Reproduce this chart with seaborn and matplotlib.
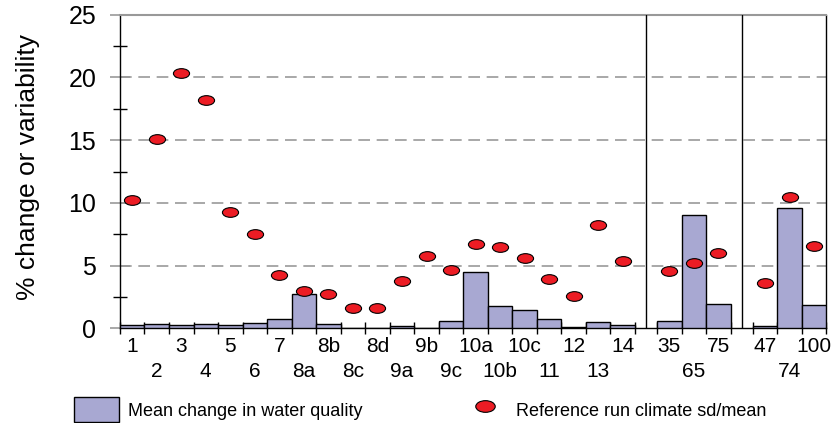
import numpy as np
import pandas as pd
import matplotlib
matplotlib.use("Agg")
import matplotlib.pyplot as plt
import seaborn as sns
from matplotlib.path import Path
from matplotlib.transforms import Affine2D
from matplotlib.patches import Patch
from matplotlib.lines import Line2D

# --------------------------
# DATA
# --------------------------
sites = ["1", "2", "3", "4", "5", "6", "7", "8a", "8b", "8c", "8d",
         "9a", "9b", "9c", "10a", "10b", "10c", "11", "12", "13", "14"]
group65 = ["35", "65", "75"]
group74 = ["47", "74", "100"]

mean_change = [0.25, 0.37, 0.25, 0.3, 0.25, 0.42, 0.7, 2.77, 0.3, 0.0, 0.0,
               0.15, 0.0, 0.55, 4.45, 1.78, 1.44, 0.77, 0.13, 0.5, 0.25]
mean_change_65 = [0.56, 9.04, 1.94]
mean_change_74 = [0.16, 9.58, 1.86]

sd_mean = [10.2, 15.08, 20.37, 18.22, 9.3, 7.53, 4.23, 2.98, 2.71, 1.64, 1.6,
           3.77, 5.8, 4.68, 6.7, 6.51, 5.59, 3.93, 2.55, 8.22, 5.4]
sd_mean_65 = [4.57, 5.21, 6.03]
sd_mean_74 = [3.62, 10.45, 6.59]

group_labels = ["65", "74"]

BAR_COLOR = "#a8a8d2"
DOT_COLOR = "#ec1c24"
GAP = 0.9

# --------------------------
# POSITIONS
# --------------------------
pos1 = list(np.arange(len(sites), dtype=float))
start2 = pos1[-1] + 1 + GAP
pos2 = [start2 + i for i in range(len(group65))]
start3 = pos2[-1] + 1 + GAP
pos3 = [start3 + i for i in range(len(group74))]

df = pd.DataFrame({
    "pos": pos1 + pos2 + pos3,
    "label": sites + group65 + group74,
    "change": mean_change + mean_change_65 + mean_change_74,
    "sdmean": sd_mean + sd_mean_65 + sd_mean_74,
})

# --------------------------
# PLOT
# --------------------------
sns.set_style("white")
plt.rcParams["font.family"] = ["Liberation Sans", "DejaVu Sans"]
plt.rcParams["text.color"] = "black"
plt.rcParams["axes.labelcolor"] = "black"

fig = plt.figure(figsize=(8.33, 4.23), dpi=100)
ax = fig.add_axes([0.144, 0.224, 0.848, 0.741])

sns.barplot(data=df, x="pos", y="change", native_scale=True, width=1.0,
            color=BAR_COLOR, edgecolor="black", linewidth=1.0,
            saturation=1, ax=ax, zorder=3)

ellipse = Affine2D().scale(1.0, 0.6).transform_path(Path.unit_circle())
sns.scatterplot(data=df, x="pos", y="sdmean", marker=ellipse, s=135,
                color=DOT_COLOR, edgecolor="black", linewidth=0.8,
                ax=ax, zorder=5)

ax.set_xlim(-0.5, pos3[-1] + 0.5)
ax.set_ylim(0, 25)

# separators between groups
ax.axvline(pos1[-1] + 0.5 + GAP / 2, color="black", lw=1.0, zorder=4)
ax.axvline(pos2[-1] + 0.5 + GAP / 2, color="black", lw=1.0, zorder=4)

# y axis
ax.set_yticks([0, 5, 10, 15, 20, 25])
ax.set_yticks([2.5, 7.5, 12.5, 17.5, 22.5], minor=True)
ax.tick_params(axis="y", which="major", direction="inout", length=14,
               color="#999999", width=1.2, labelsize=18, pad=10, left=True,
               labelcolor="black")
ax.tick_params(axis="y", which="minor", direction="inout", length=10,
               color="black", width=1.0, left=True)
for yv in [5, 10, 15, 20]:
    ax.axhline(yv, color="#999999", lw=1.2, ls=(0, (7, 4)), zorder=1)
ax.set_ylabel("% change or variability", fontsize=19, color="black")
ax.yaxis.set_label_coords(-0.113, 0.515)

# x axis: tick marks at bar edges, labels at bar centres in two rows
edges = []
for grp in (pos1, pos2, pos3):
    edges += [p - 0.5 for p in grp] + [grp[-1] + 0.5]
ax.set_xticks(edges)
ax.set_xticklabels([])
ax.tick_params(axis="x", which="major", direction="inout", length=8,
               color="black", width=1.0, bottom=True)

row1_pos, row1_lab, row2_pos, row2_lab = [], [], [], []
for i, (p, lab) in enumerate(zip(pos1, sites)):
    if i % 2 == 0:
        row1_pos.append(p)
        row1_lab.append(lab)
    else:
        row2_pos.append(p)
        row2_lab.append(lab)
for grp_lab, members, grp in zip(group_labels, (group65, group74), (pos2, pos3)):
    row1_pos += [grp[0], grp[2]]
    row1_lab += [members[0], members[2]]
    row2_pos.append(grp[1])
    row2_lab.append(grp_lab)

ax.set_xticks(row1_pos, minor=True)
ax.set_xticklabels(row1_lab, minor=True, fontsize=15, color="black")
ax.tick_params(axis="x", which="minor", length=0, pad=6)
ax.set_xlabel("")

sec = ax.secondary_xaxis("bottom")
sec.set_xticks(row2_pos)
sec.set_xticklabels(row2_lab, fontsize=15, color="black")
sec.tick_params(axis="x", length=0, pad=24)
sec.spines["bottom"].set_visible(False)

for s in ["left", "bottom", "right"]:
    ax.spines[s].set_color("black")
    ax.spines[s].set_linewidth(1.0)
ax.spines["top"].set_color("#999999")
ax.spines["top"].set_linewidth(1.5)

# legend
handles = [
    Patch(facecolor=BAR_COLOR, edgecolor="black", linewidth=1.0),
    Line2D([], [], ls="none", marker=ellipse, markersize=14,
           markerfacecolor=DOT_COLOR, markeredgecolor="black",
           markeredgewidth=0.8),
]
fig.legend(handles, ["Mean change in water quality",
                     "Reference run climate sd/mean"],
           loc="lower left", bbox_to_anchor=(0.089, 0.002), ncol=2,
           frameon=False, fontsize=13, handlelength=2.5, handleheight=1.75,
           handletextpad=0.5, columnspacing=5.5, borderpad=0,
           borderaxespad=0, labelcolor="black")

fig.savefig("out.png", dpi=100)
